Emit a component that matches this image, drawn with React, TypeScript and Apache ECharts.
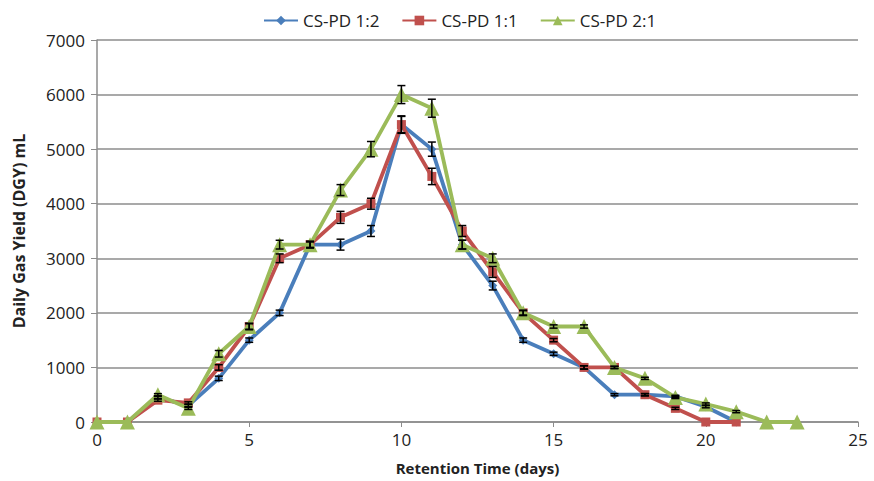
import React, { useEffect, useRef } from "react";
import * as echarts from "echarts";

const seriesNames = ["CS-PD 1:2", "CS-PD 1:1", "CS-PD 2:1"];
const colors = ["#4a7ebb", "#c0504d", "#9bbb59"];

const daysBlue = [0, 1, 2, 3, 4, 5, 6, 7, 8, 9, 10, 11, 12, 13, 14, 15, 16, 17, 18, 19, 20, 21];
const valuesBlue = [0, 0, 450, 300, 800, 1500, 2000, 3250, 3250, 3500, 5450, 5000, 3250, 2500, 1500, 1250, 1000, 500, 500, 470, 280, 0];
const errBlue = [0, 0, 20, 20, 40, 40, 50, 50, 100, 100, 150, 130, 80, 80, 40, 30, 30, 20, 20, 20, 20, 0];

const daysRed = [0, 1, 2, 3, 4, 5, 6, 7, 8, 9, 10, 11, 12, 13, 14, 15, 16, 17, 18, 19, 20, 21];
const valuesRed = [0, 0, 400, 350, 1000, 1750, 3000, 3250, 3750, 4000, 5450, 4500, 3500, 2750, 2000, 1500, 1000, 1000, 500, 250, 0, 0];
const errRed = [0, 0, 20, 20, 50, 50, 80, 60, 110, 100, 160, 150, 100, 100, 40, 30, 30, 20, 20, 20, 0, 0];

const daysGreen = [0, 1, 2, 3, 4, 5, 6, 7, 8, 9, 10, 11, 12, 13, 14, 15, 16, 17, 18, 19, 20, 21, 22, 23];
const valuesGreen = [0, 0, 500, 250, 1250, 1750, 3250, 3250, 4250, 5000, 6000, 5750, 3250, 3000, 2000, 1750, 1750, 1000, 800, 450, 330, 190, 0, 0];
const errGreen = [0, 0, 20, 20, 60, 60, 80, 60, 100, 140, 165, 165, 80, 80, 50, 30, 30, 20, 20, 20, 20, 20, 0, 0];

const xTicks = [0, 5, 10, 15, 20, 25];
const yTicks = [0, 1000, 2000, 3000, 4000, 5000, 6000, 7000];

const FONT = "'Open Sans', 'Liberation Sans', sans-serif";

export default function App() {
  const ref = useRef<HTMLDivElement>(null);
  useEffect(() => {
    if (!ref.current) return;
    const chart = echarts.init(ref.current, undefined, { renderer: "svg" });
    const groups = [
      { days: daysBlue, vals: valuesBlue, err: errBlue, symbol: "diamond", size: 9 },
      { days: daysRed, vals: valuesRed, err: errRed, symbol: "rect", size: 9 },
      { days: daysGreen, vals: valuesGreen, err: errGreen, symbol: "triangle", size: 15 },
    ];
    const lineSeries: any[] = groups.map((g, i) => ({
      name: seriesNames[i],
      type: "line",
      data: g.days.map((d, j) => [d, g.vals[j]]),
      symbol: g.symbol,
      symbolSize: g.size,
      showSymbol: true,
      lineStyle: { color: colors[i], width: 3.8 },
      itemStyle: { color: colors[i] },
      z: 3 + i,
    }));
    const errSeries: any[] = groups.map((g, i) => ({
      name: seriesNames[i] + " err",
      type: "custom",
      data: g.days.map((d, j) => [d, g.vals[j] - g.err[j], g.vals[j] + g.err[j]]).filter((_, j) => g.err[j] > 0),
      renderItem: (_params: any, api: any) => {
        const x = api.value(0);
        const lo = api.coord([x, api.value(1)]);
        const hi = api.coord([x, api.value(2)]);
        const w = 4;
        const st = { stroke: "#000", lineWidth: 1.5 };
        return {
          type: "group",
          children: [
            { type: "line", shape: { x1: lo[0], y1: lo[1], x2: hi[0], y2: hi[1] }, style: st },
            { type: "line", shape: { x1: lo[0] - w, y1: lo[1], x2: lo[0] + w, y2: lo[1] }, style: st },
            { type: "line", shape: { x1: hi[0] - w, y1: hi[1], x2: hi[0] + w, y2: hi[1] }, style: st },
          ],
        };
      },
      z: 10 + i,
      silent: true,
    }));
    chart.setOption({
      animation: false,
      backgroundColor: "#ffffff",
      textStyle: { fontFamily: FONT },
      legend: {
        data: seriesNames,
        top: 7,
        left: 258,
        itemGap: 22,
        itemWidth: 34,
        itemHeight: 12,
        textStyle: { fontFamily: FONT, fontSize: 17, color: "#222" },
      },
      grid: { left: 97, right: 16, top: 40, bottom: 59, containLabel: false, outerBoundsMode: "none" },
      xAxis: {
        type: "value",
        min: xTicks[0],
        max: xTicks[xTicks.length - 1],
        interval: 5,
        name: "Retention Time (days)",
        nameLocation: "middle",
        nameGap: 38,
        nameTextStyle: { fontFamily: FONT, fontSize: 15, fontWeight: "bold", color: "#222" },
        axisLine: { lineStyle: { color: "#8c8c8c", width: 1.5 } },
        axisTick: { show: true, length: 5, inside: false, lineStyle: { color: "#8c8c8c" } },
        axisLabel: { fontFamily: FONT, fontSize: 17, color: "#222", margin: 9 },
        splitLine: { show: false },
      },
      yAxis: {
        type: "value",
        min: yTicks[0],
        max: yTicks[yTicks.length - 1],
        interval: 1000,
        name: "Daily Gas Yield (DGY) mL",
        nameLocation: "middle",
        nameGap: 70,
        nameRotate: 90,
        nameTextStyle: { fontFamily: FONT, fontSize: 16, fontWeight: "bold", color: "#222" },
        axisLine: { show: true, lineStyle: { color: "#8c8c8c", width: 1.5 } },
        axisTick: { show: true, length: 6, lineStyle: { color: "#8c8c8c" } },
        axisLabel: { fontFamily: FONT, fontSize: 17, color: "#222", margin: 12, formatter: (v: number) => String(v) },
        splitLine: { show: true, lineStyle: { color: "#8c8c8c", width: 1.5 } },
      },
      series: [...lineSeries, ...errSeries],
    });
    return () => chart.dispose();
  }, []);
  return <div ref={ref} style={{ width: 874, height: 481, position: "absolute", left: 0, top: 0 }} />;
}
